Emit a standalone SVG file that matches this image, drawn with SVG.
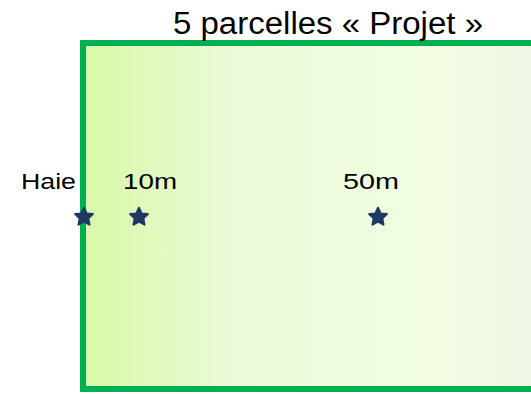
<svg xmlns="http://www.w3.org/2000/svg" width="531" height="394" viewBox="0 0 531 394">
<defs>
<linearGradient id="g" x1="0" y1="0" x2="1" y2="0">
<stop offset="0" stop-color="#D8F9A6"/>
<stop offset="0.3" stop-color="#EAFAD6"/>
<stop offset="0.75" stop-color="#F2FDE4"/>
<stop offset="1" stop-color="#EFF5E4"/>
</linearGradient>
<path id="star" d="M0,-9.3 L2.7,-3.6 L8.9,-2.9 L4.4,1.4 L5.5,7.7 L0,4.7 L-5.5,7.7 L-4.4,1.4 L-8.9,-2.9 L-2.7,-3.6 Z"/>
<style>
.t{font-family:"Liberation Sans",Arial,sans-serif;fill:#000}
.s{fill:#203864;stroke:#203864;stroke-width:2;stroke-linejoin:round}
</style>
</defs>
<g id="plot">
<rect x="83" y="43" width="460" height="346" fill="url(#g)" stroke="#00B050" stroke-width="6"/>
</g>
<g id="title"><text class="t" x="173" y="34" font-size="31" textLength="310" lengthAdjust="spacingAndGlyphs">5 parcelles « Projet »</text></g>
<g id="haie"><text class="t" x="21" y="189" font-size="22" textLength="55" lengthAdjust="spacingAndGlyphs">Haie</text>
<use href="#star" class="s" x="84" y="217"/></g>
<g id="p10"><text class="t" x="123" y="189" font-size="22" textLength="54" lengthAdjust="spacingAndGlyphs">10m</text>
<use href="#star" class="s" x="139" y="217"/></g>
<g id="p50"><text class="t" x="343" y="189" font-size="22" textLength="56" lengthAdjust="spacingAndGlyphs">50m</text>
<use href="#star" class="s" x="378" y="217"/></g>
<g id="connectors"/>
</svg>
